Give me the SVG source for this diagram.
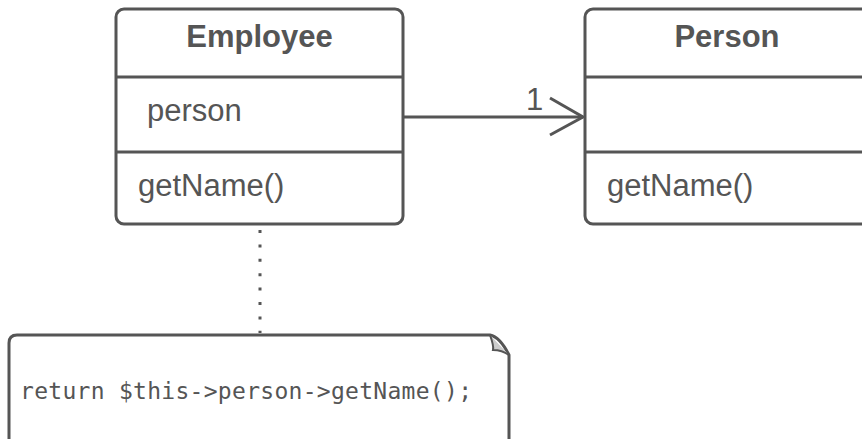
<svg xmlns="http://www.w3.org/2000/svg" width="862" height="439" viewBox="0 0 862 439">
<defs>
<style>
.box{fill:#fff;stroke:#555;stroke-width:3}
.div{stroke:#555;stroke-width:3}
.t{font-family:"Liberation Sans",Arial,sans-serif;font-size:31px;fill:#555}
.b{font-weight:bold;text-anchor:middle}
.mono{font-family:"DejaVu Sans Mono","Liberation Mono",monospace;font-size:23px;fill:#555}
.conn{fill:none;stroke:#555;stroke-width:3}
</style>
</defs>
<rect width="862" height="439" fill="#fff"/>
<g id="connectors">
<line class="conn" x1="404" y1="117" x2="583" y2="117"/>
<polyline class="conn" points="550,98 583,117 550,135"/>
<text class="t" x="526" y="110">1</text>
<line x1="260" y1="230" x2="260" y2="333" stroke="#555" stroke-width="3" stroke-dasharray="3,11.4"/>
</g>
<g id="employee">
<rect class="box" x="116" y="9" width="287" height="215" rx="8"/>
<line class="div" x1="116" y1="77" x2="403" y2="77"/>
<line class="div" x1="116" y1="152" x2="403" y2="152"/>
<text class="t b" x="259.5" y="47">Employee</text>
<text class="t" x="147" y="121">person</text>
<text class="t" x="138" y="196">getName()</text>
</g>
<g id="person">
<rect class="box" x="585" y="9" width="287" height="215" rx="8"/>
<line class="div" x1="585" y1="77" x2="872" y2="77"/>
<line class="div" x1="585" y1="152" x2="872" y2="152"/>
<text class="t b" x="727" y="47">Person</text>
<text class="t" x="607" y="196">getName()</text>
</g>
<g id="note">
<path class="box" d="M9,450 V343 Q9,335 17,335 H490 Q500,337 509,355 V450"/>
<path d="M490,335 Q494,346 493,350 Q502,350 509,355" fill="#ccc" stroke="#555" stroke-width="2"/>
<text class="mono" x="20" y="399" textLength="452" lengthAdjust="spacing">return $this-&gt;person-&gt;getName();</text>
</g>
</svg>
